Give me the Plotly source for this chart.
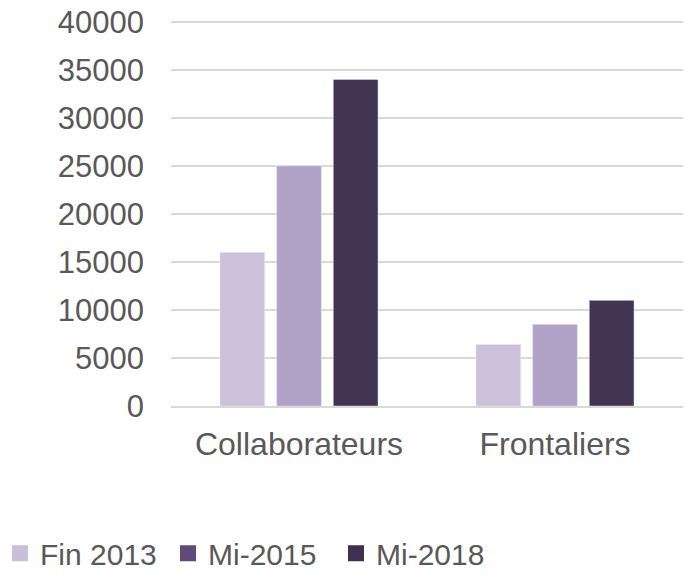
import plotly.graph_objects as go

# catégories et valeurs
categories = ['Collaborateurs', 'Frontaliers']
series = ['Fin 2013', 'Mi-2015', 'Mi-2018']
fin_2013 = [16000, 6400]
mi_2015 = [25000, 8500]
mi_2018 = [34000, 11000]
y_ticks = [0, 5000, 10000, 15000, 20000, 25000, 30000, 35000, 40000]
y_labels = [str(v) for v in y_ticks]

bar_colors = ['#CBC1DB', '#B1A2C8', '#413351']
legend_colors = ['#C8BFDA', '#5F4A7A', '#3F2F50']

fig = go.Figure()

for name, vals, col in zip(series, [fin_2013, mi_2015, mi_2018], bar_colors):
    fig.add_trace(go.Bar(x=categories, y=vals, name=name, marker_color=col,
                         showlegend=False, hoverinfo='x+y+name'))

# entrées de légende (carrés)
for name, col in zip(series, legend_colors):
    fig.add_trace(go.Scatter(x=[categories[0]], y=[None], name=name, mode='markers',
                             marker=dict(symbol='square', size=16, color=col)))

fig.update_layout(
    width=685, height=575,
    barmode='group',
    bargap=0.336,
    bargroupgap=0.21,
    plot_bgcolor='white',
    paper_bgcolor='white',
    font=dict(family='Liberation Sans, Arial', color='#595959', size=30),
    margin=dict(l=171, r=2, t=17, b=169),
    legend=dict(
        orientation='h',
        xref='container', yref='container',
        x=0.0, y=0.038,
        xanchor='left', yanchor='middle',
        font=dict(size=30, color='#595959'),
        itemsizing='trace',
        entrywidth=123,
    ),
)

fig.update_xaxes(
    showgrid=False,
    showline=True, linecolor='#D9D9D9', linewidth=1.5,
    ticks='', ticklabelstandoff=9,
    tickfont=dict(size=32, color='#595959'),
)

fig.update_yaxes(
    range=[0, 40500],
    tickvals=y_ticks, ticktext=y_labels,
    showgrid=True, gridcolor='#D9D9D9', gridwidth=1.5,
    zeroline=False,
    ticks='', ticklabelstandoff=26,
    tickfont=dict(size=31, color='#595959'),
)

fig.write_html('out.html', config={'displayModeBar': False},
               post_script="document.body.style.margin='0';")
